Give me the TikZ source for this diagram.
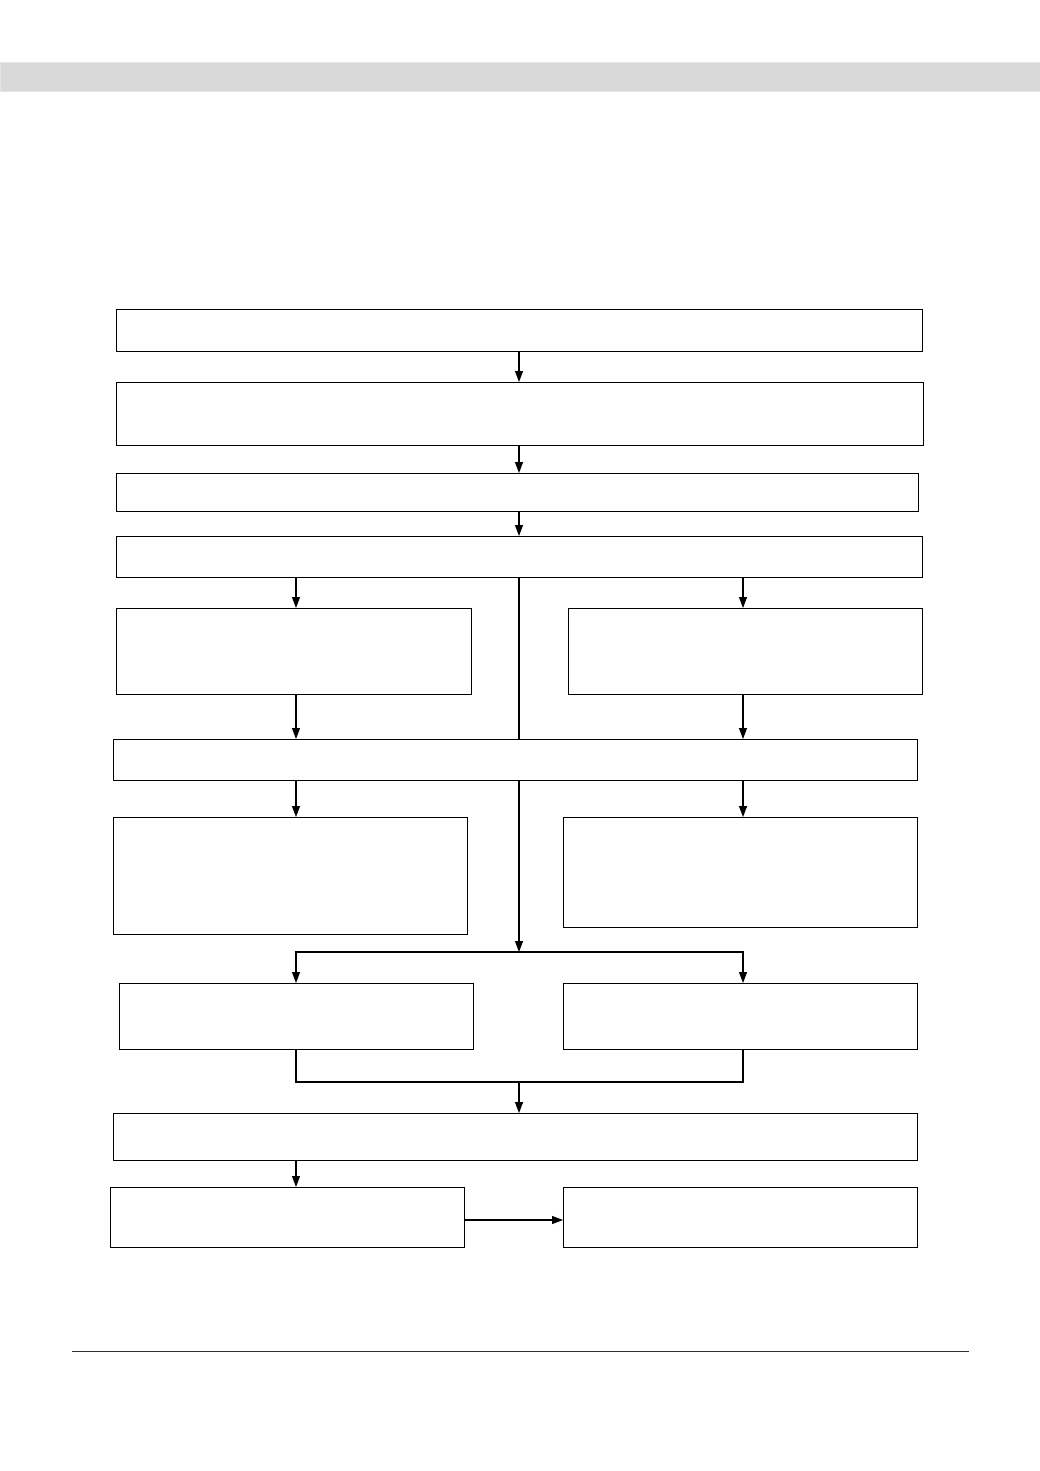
\documentclass[tikz,border=0pt]{standalone}
\usetikzlibrary{arrows.meta,calc}
\definecolor{bandgray}{HTML}{D9D9D9}
\definecolor{bandedge}{HTML}{E6E6E6}
\definecolor{rulegray}{HTML}{303030}
\begin{document}
\begin{tikzpicture}[x=1pt,y=-1pt,
  box/.style={draw=black,line width=1.2pt,rectangle,inner sep=0pt,anchor=north west},
  arr/.style={line width=1.1pt,-{Triangle[length=11pt,width=8pt]}},
  ln/.style={line width=1.1pt}]
\useasboundingbox (0,0) rectangle (1040,1471);
% header band
\fill[bandgray,draw=bandedge,line width=0.8pt] (0,62) rectangle (1040,91);
% column coordinates
\coordinate (xc) at (519,0);
\coordinate (xl) at (296,0);
\coordinate (xr) at (743,0);
% boxes
\node[box,minimum width=806pt,minimum height=42pt] (b1) at (116,309) {};
\node[box,minimum width=807pt,minimum height=63pt] (b2) at (116,382) {};
\node[box,minimum width=802pt,minimum height=38pt] (b3) at (116,473) {};
\node[box,minimum width=806pt,minimum height=41pt] (b4) at (116,536) {};
\node[box,minimum width=355pt,minimum height=86pt] (b5l) at (116,608) {};
\node[box,minimum width=354pt,minimum height=86pt] (b5r) at (568,608) {};
\node[box,minimum width=804pt,minimum height=41pt] (b6) at (113,739) {};
\node[box,minimum width=354pt,minimum height=117pt] (b7l) at (113,817) {};
\node[box,minimum width=354pt,minimum height=110pt] (b7r) at (563,817) {};
\node[box,minimum width=354pt,minimum height=66pt] (b8l) at (119,983) {};
\node[box,minimum width=354pt,minimum height=66pt] (b8r) at (563,983) {};
\node[box,minimum width=804pt,minimum height=47pt] (b9) at (113,1113) {};
\node[box,minimum width=354pt,minimum height=60pt] (b10) at (110,1187) {};
\node[box,minimum width=354pt,minimum height=60pt] (b11) at (563,1187) {};
% helper coordinates
\coordinate (split) at (519,952);
\coordinate (merge) at (519,1082);
\coordinate (ya) at (0,1220);
% connectors
\draw[arr] (b1.south -| xc) -- (b2.north -| xc);
\draw[arr] (b2.south -| xc) -- (b3.north -| xc);
\draw[arr] (b3.south -| xc) -- (b4.north -| xc);
\draw[arr] (b4.south -| xl) -- (b5l.north -| xl);
\draw[arr] (b4.south -| xr) -- (b5r.north -| xr);
\draw[ln] (b4.south -| xc) -- (b6.north -| xc);
\draw[arr] (b5l.south -| xl) -- (b6.north -| xl);
\draw[arr] (b5r.south -| xr) -- (b6.north -| xr);
\draw[arr] (b6.south -| xl) -- (b7l.north -| xl);
\draw[arr] (b6.south -| xr) -- (b7r.north -| xr);
\draw[arr] (b6.south -| xc) -- (split);
\draw[arr] (split) -| (b8l.north -| xl);
\draw[arr] (split) -| (b8r.north -| xr);
\draw[ln] (b8l.south -| xl) |- (merge) -| (b8r.south -| xr);
\draw[arr] (merge) -- (b9.north -| xc);
\draw[arr] (b9.south -| xl) -- (b10.north -| xl);
\draw[arr] (b10.east |- ya) -- (b11.west |- ya);
% footer rule
\draw[rulegray,line width=0.8pt] (72,1351) -- (969,1351);
\end{tikzpicture}
\end{document}
